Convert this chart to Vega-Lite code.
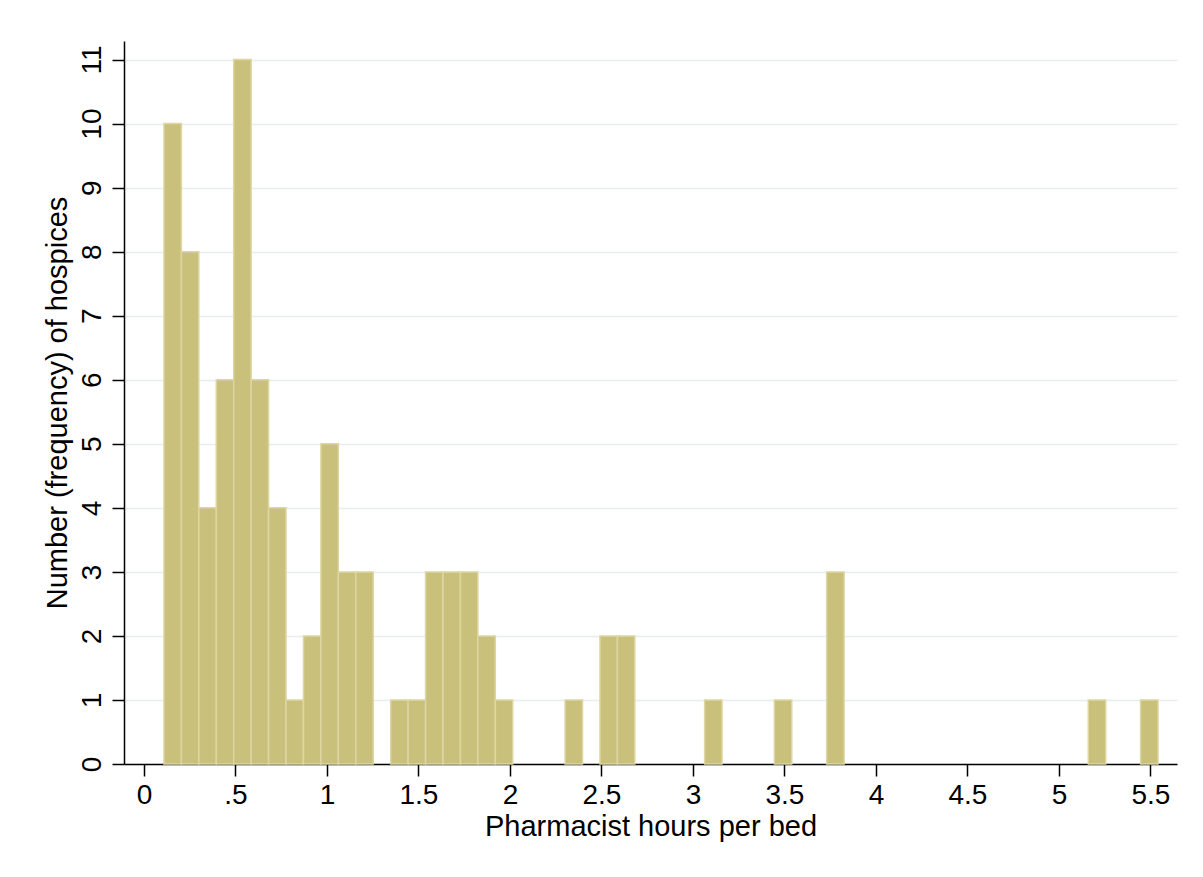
{
  "$schema": "https://vega.github.io/schema/vega-lite/v6.json",
  "width": 1053,
  "height": 723,
  "autosize": "none",
  "padding": {"left": 124, "top": 41, "right": 26, "bottom": 113},
  "background": "white",
  "config": {
    "font": "Liberation Sans",
    "view": {"stroke": null},
    "axis": {"labelColor": "black", "titleColor": "black", "labelFont": "Liberation Sans", "titleFont": "Liberation Sans", "titleFontWeight": "normal"}
  },
  "data": {
    "values": [
      {"bin_start": 0.1093, "bin_end": 0.2046, "count": 10},
      {"bin_start": 0.2046, "bin_end": 0.2999, "count": 8},
      {"bin_start": 0.2999, "bin_end": 0.3952, "count": 4},
      {"bin_start": 0.3952, "bin_end": 0.4905, "count": 6},
      {"bin_start": 0.4905, "bin_end": 0.5858, "count": 11},
      {"bin_start": 0.5858, "bin_end": 0.6811, "count": 6},
      {"bin_start": 0.6811, "bin_end": 0.7764, "count": 4},
      {"bin_start": 0.7764, "bin_end": 0.8717, "count": 1},
      {"bin_start": 0.8717, "bin_end": 0.967, "count": 2},
      {"bin_start": 0.967, "bin_end": 1.0623, "count": 5},
      {"bin_start": 1.0623, "bin_end": 1.1576, "count": 3},
      {"bin_start": 1.1576, "bin_end": 1.2529, "count": 3},
      {"bin_start": 1.3482, "bin_end": 1.4435, "count": 1},
      {"bin_start": 1.4435, "bin_end": 1.5388, "count": 1},
      {"bin_start": 1.5388, "bin_end": 1.6341, "count": 3},
      {"bin_start": 1.6341, "bin_end": 1.7294, "count": 3},
      {"bin_start": 1.7294, "bin_end": 1.8247, "count": 3},
      {"bin_start": 1.8247, "bin_end": 1.92, "count": 2},
      {"bin_start": 1.92, "bin_end": 2.0153, "count": 1},
      {"bin_start": 2.3012, "bin_end": 2.3965, "count": 1},
      {"bin_start": 2.4918, "bin_end": 2.5871, "count": 2},
      {"bin_start": 2.5871, "bin_end": 2.6824, "count": 2},
      {"bin_start": 3.0636, "bin_end": 3.1589, "count": 1},
      {"bin_start": 3.4448, "bin_end": 3.5401, "count": 1},
      {"bin_start": 3.7307, "bin_end": 3.826, "count": 3},
      {"bin_start": 5.1602, "bin_end": 5.2555, "count": 1},
      {"bin_start": 5.4461, "bin_end": 5.5414, "count": 1}
    ]
  },
  "mark": {"type": "rect", "fill": "#c9c07b", "stroke": "#ddd6a3", "strokeWidth": 1.5},
  "encoding": {
    "x": {
      "field": "bin_start",
      "type": "quantitative",
      "scale": {"domain": [-0.109, 5.645], "nice": false, "zero": false},
      "axis": {
        "title": "Pharmacist hours per bed",
        "values": [0, 0.5, 1, 1.5, 2, 2.5, 3, 3.5, 4, 4.5, 5, 5.5],
        "format": "~g",
        "labelExpr": "datum.value == 0.5 ? '.5' : datum.label",
        "labelFontSize": 28,
        "titleFontSize": 29,
        "tickSize": 12,
        "tickWidth": 1.5,
        "tickColor": "black",
        "domainColor": "black",
        "domainWidth": 1.5,
        "labelPadding": 5,
        "titlePadding": 3,
        "grid": false
      }
    },
    "x2": {"field": "bin_end"},
    "y": {
      "field": "count",
      "type": "quantitative",
      "scale": {"domain": [0, 11.29], "nice": false},
      "axis": {
        "title": "Number (frequency) of hospices",
        "values": [0, 1, 2, 3, 4, 5, 6, 7, 8, 9, 10, 11],
        "labelAngle": -90,
        "labelAlign": "center",
        "labelBaseline": "bottom",
        "labelFontSize": 28,
        "titleFontSize": 29,
        "tickSize": 12,
        "tickWidth": 1.5,
        "tickColor": "black",
        "domainColor": "black",
        "domainWidth": 1.5,
        "labelPadding": 6,
        "titlePadding": 6,
        "grid": true,
        "gridColor": "#e6eef0",
        "gridWidth": 1.5
      }
    },
    "y2": {"datum": 0}
  }
}
